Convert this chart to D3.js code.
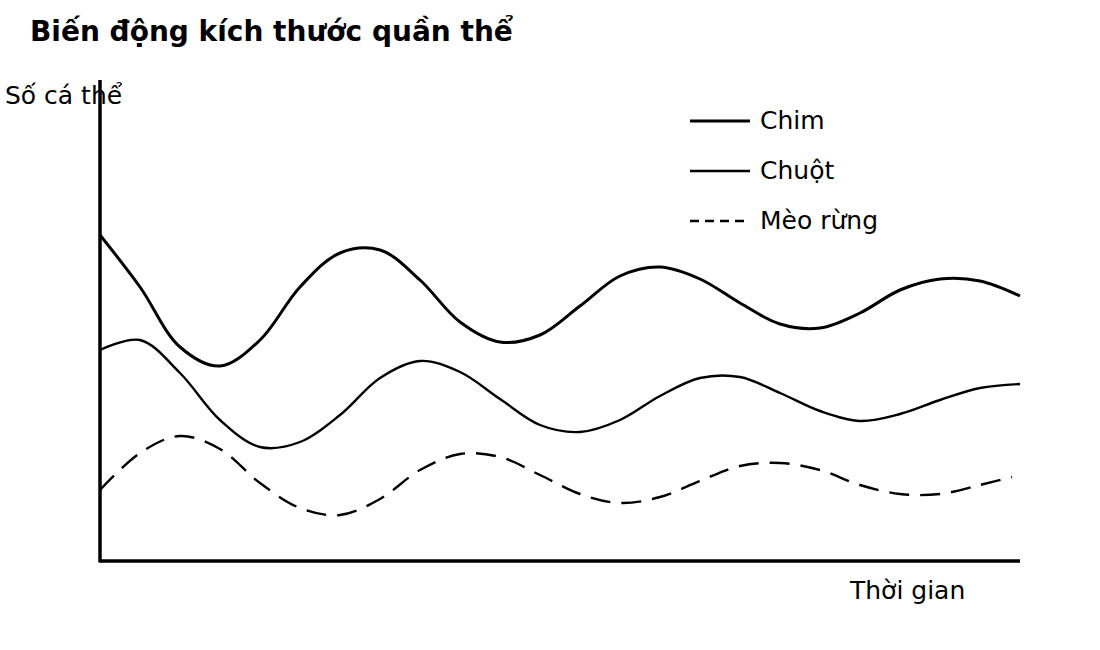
<!DOCTYPE html>
<html>
<head>
<meta charset="utf-8">
<script src="https://cdn.jsdelivr.net/npm/d3@7"></script>
<style>
  body { margin: 0; background: #fff; }
  text { font-family: "DejaVu Sans", sans-serif; fill: #000; }
</style>
</head>
<body>
<div id="chart"></div>
<script>
// time steps (x axis categories)
const thoiGian = d3.range(24);
// last point of the dashed series stops a bit before the end
const thoiGianMeo = thoiGian.slice(0, 23).concat([22.8]);

// series values
const chim = [326, 274, 214, 195, 221, 274, 308, 311, 281, 239, 219, 226,
              255, 285, 294, 282, 258, 237, 233, 248, 271, 282, 280, 265];
const chuot = [211, 221, 188, 141, 114, 119, 146, 183, 200, 189, 162, 136,
               129, 141, 165, 183, 184, 168, 150, 140, 147, 161, 173, 177];
const meoRung = [71, 108, 125, 112, 78, 53, 46, 62, 91, 107, 104, 86,
                 67, 58, 64, 80, 95, 98, 91, 76, 67, 67, 76, 84];

const seriesNames = ['Chim', 'Chuột', 'Mèo rừng'];

const width = 1100;
const height = 650;

const svg = d3.select('#chart')
  .append('svg')
  .attr('width', width)
  .attr('height', height);

// scales
const x = d3.scaleLinear().domain([0, 23]).range([100, 1020]);
const y = d3.scaleLinear().domain([0, 480]).range([561, 81]);

// title and axis labels
svg.append('text')
  .attr('x', 30)
  .attr('y', 41)
  .style('font-size', '28px')
  .style('font-weight', 'bold')
  .text('Biến động kích thước quần thể');

svg.append('text')
  .attr('x', 5)
  .attr('y', 104)
  .style('font-size', '25px')
  .text('Số cá thể');

svg.append('text')
  .attr('x', 850)
  .attr('y', 599)
  .style('font-size', '25px')
  .text('Thời gian');

// the series
const series = [
  { name: seriesNames[0], t: thoiGian, v: chim, width: 3, dash: null, legendDash: null },
  { name: seriesNames[1], t: thoiGian, v: chuot, width: 2.4, dash: null, legendDash: null },
  { name: seriesNames[2], t: thoiGianMeo, v: meoRung, width: 2.4, dash: '20,11', legendDash: '9,6' }
];

const line = d3.line()
  .x(d => x(d[0]))
  .y(d => y(d[1]))
  .curve(d3.curveCatmullRom);

svg.selectAll('path.series')
  .data(series)
  .join('path')
  .attr('class', 'series')
  .attr('d', d => line(d.t.map((t, i) => [t, d.v[i]])))
  .attr('fill', 'none')
  .attr('stroke', '#000')
  .attr('stroke-width', d => d.width)
  .attr('stroke-dasharray', d => d.dash);

// axes (plain lines, no ticks)
svg.append('line')
  .attr('x1', x(0)).attr('x2', x(0))
  .attr('y1', y(0) + 1.5).attr('y2', y(481))
  .attr('stroke', '#000')
  .attr('stroke-width', 3.5);

svg.append('line')
  .attr('x1', x(0)).attr('x2', x(23))
  .attr('y1', y(0)).attr('y2', y(0))
  .attr('stroke', '#000')
  .attr('stroke-width', 3.5);

// legend
const legend = svg.append('g')
  .selectAll('g')
  .data(series)
  .join('g')
  .attr('transform', (d, i) => 'translate(690,' + (121 + i * 50) + ')');

legend.append('line')
  .attr('x1', 0).attr('x2', 60)
  .attr('stroke', '#000')
  .attr('stroke-width', d => d.width)
  .attr('stroke-dasharray', d => d.legendDash);

legend.append('text')
  .attr('x', 70)
  .attr('y', 8)
  .style('font-size', '25px')
  .text(d => d.name);
</script>
</body>
</html>
